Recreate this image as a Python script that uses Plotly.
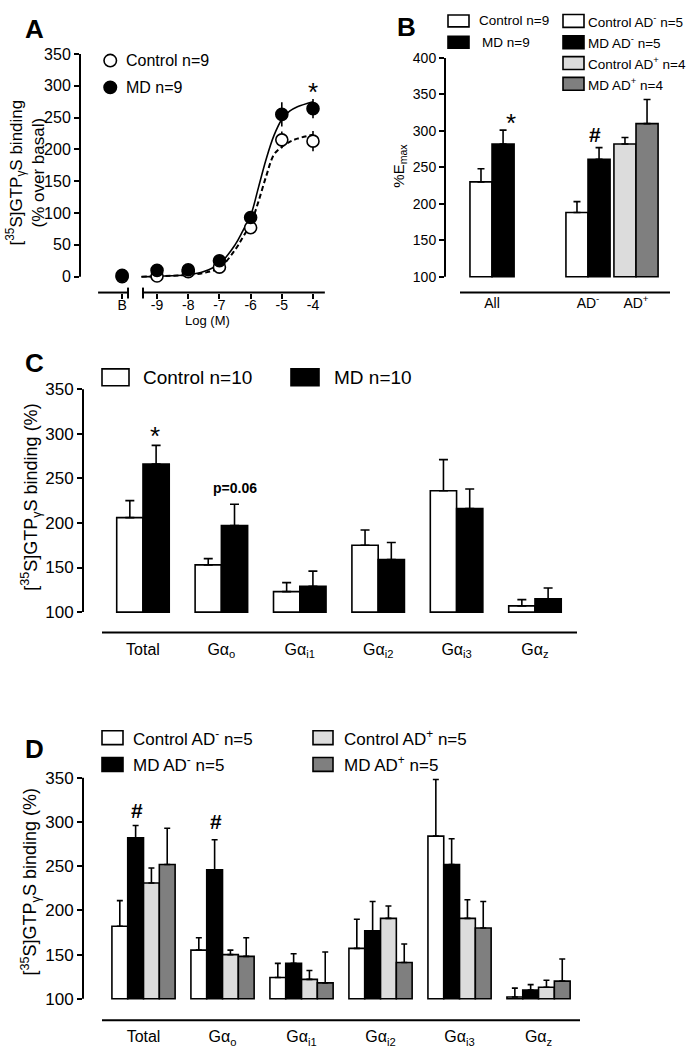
import plotly.graph_objects as go

W, H = 691, 1050
FONT = "Arial, 'Liberation Sans', sans-serif"

# ---------------- data ----------------
# A: [35S]GTPgS binding (% over basal) vs log concentration; "B" = basal
A_LEVELS = [-10.12, -9, -8, -7, -6, -5, -4]
A_TICKTEXT = ["B", "-9", "-8", "-7", "-6", "-5", "-4"]
A_CONTROL = [0, 1, 8, 15, 77, 215, 213]
A_CONTROL_SEM = [0, 0, 0, 2, 5, 13, 16]
A_MD = [2, 10, 11, 25, 93, 255, 264]
A_MD_SEM = [0, 0, 0, 3, 5, 19, 15]
# fitted curves
A_FIT_X = [-9.5, -9, -8.5, -8, -7.5, -7, -6.5, -6.25, -6, -5.75, -5.5, -5.25, -5, -4.75, -4.5, -4]
A_FIT_MD = [0, 0.5, 1.5, 3, 8, 20, 50, 72, 96, 140, 185, 222, 247, 260, 267, 275]
A_FIT_CONTROL = [0, 0.5, 1.5, 3, 6, 14, 42, 62, 83, 118, 158, 192, 204, 212, 217, 223]
A_NAMES = ["Control n=9", "MD n=9"]

# B: %Emax
B_NAMES = ["Control n=9", "MD n=9", "Control AD<sup>-</sup> n=5", "MD AD<sup>-</sup> n=5",
           "Control AD<sup>+</sup> n=4", "MD AD<sup>+</sup> n=4"]
B_GROUP = ["All", "All", "AD-", "AD-", "AD+", "AD+"]
B_MEANS = [230, 282, 188, 261, 282, 310]
B_SEMS = [18, 19, 15, 16, 9, 33]
B_CATS = ["All", "gap", "AD-", "AD+"]
B_TICKTEXT = ["All", "", "AD<sup>-</sup>", "AD<sup>+</sup>"]

# C / D: binding per G-protein subunit
SUBUNITS = ["Total", "Gα<sub>o</sub>", "Gα<sub>i1</sub>", "Gα<sub>i2</sub>",
            "Gα<sub>i3</sub>", "Gα<sub>z</sub>"]
C_NAMES = ["Control n=10", "MD n=10"]
C_CONTROL = [206, 153, 123, 175, 236, 107]
C_CONTROL_SEM = [19, 7, 10, 17, 35, 7]
C_MD = [266, 197, 129, 159, 216, 115]
C_MD_SEM = [21, 24, 17, 19, 22, 12]

D_NAMES = ["Control AD<sup>-</sup> n=5", "MD AD<sup>-</sup> n=5",
           "Control AD<sup>+</sup> n=5", "MD AD<sup>+</sup> n=5"]
D_CONTROL_ADN = [182, 155, 124, 157, 284, 102]
D_CONTROL_ADN_SEM = [29, 14, 16, 33, 64, 10]
D_MD_ADN = [282, 246, 140, 177, 252, 110]
D_MD_ADN_SEM = [14, 34, 11, 33, 29, 6]
D_CONTROL_ADP = [231, 150, 122, 191, 191, 113]
D_CONTROL_ADP_SEM = [17, 5, 10, 14, 21, 8]
D_MD_ADP = [252, 148, 118, 141, 180, 120]
D_MD_ADP_SEM = [41, 21, 35, 21, 30, 25]

WHITE, BLACK, LIGHT, DARK = "#FFFFFF", "#000000", "#DCDCDC", "#7F7F7F"


def px(v):
    return v / W


def py(v):
    return 1 - v / H


fig = go.Figure()


def bar(name, cats, means, sems, color, xa, ya, offset, width, cap):
    return go.Bar(
        x=cats, y=[m - 100 for m in means], base=100, offset=offset, width=width,
        marker=dict(color=color, line=dict(color=BLACK, width=1.6)),
        error_y=dict(type="data", symmetric=False, array=sems, arrayminus=[0] * len(sems),
                     color=BLACK, thickness=1.6, width=cap),
        name=name, xaxis=xa, yaxis=ya, showlegend=False, hoverinfo="skip",
    )


# ---- A
fig.add_trace(go.Scatter(x=A_FIT_X, y=A_FIT_CONTROL, mode="lines", xaxis="x", yaxis="y",
                         line=dict(color=BLACK, width=2, dash="5px,3px", shape="spline"),
                         showlegend=False, hoverinfo="skip"))
fig.add_trace(go.Scatter(x=A_FIT_X, y=A_FIT_MD, mode="lines", xaxis="x", yaxis="y",
                         line=dict(color=BLACK, width=1.6, shape="spline"),
                         showlegend=False, hoverinfo="skip"))
fig.add_trace(go.Scatter(x=A_LEVELS, y=A_CONTROL, mode="markers", xaxis="x", yaxis="y", name=A_NAMES[0],
                         marker=dict(size=12, color=WHITE, line=dict(color=BLACK, width=1.6)),
                         error_y=dict(array=A_CONTROL_SEM, color=BLACK, thickness=1.6, width=0),
                         showlegend=False))
fig.add_trace(go.Scatter(x=A_LEVELS, y=A_MD, mode="markers", xaxis="x", yaxis="y", name=A_NAMES[1],
                         marker=dict(size=12, color=BLACK, line=dict(color=BLACK, width=1.6)),
                         error_y=dict(array=A_MD_SEM, color=BLACK, thickness=1.6, width=0),
                         showlegend=False))

# ---- B
b_colors = [WHITE, BLACK, WHITE, BLACK, LIGHT, DARK]
b_w = 0.46
for i, name in enumerate(B_NAMES):
    off = -b_w if i % 2 == 0 else 0
    fig.add_trace(bar(name, [B_GROUP[i]], [B_MEANS[i]], [B_SEMS[i]], b_colors[i], "x2", "y2", off, b_w, 3.5))

# ---- C
c_w = 0.335
fig.add_trace(bar(C_NAMES[0], SUBUNITS, C_CONTROL, C_CONTROL_SEM, WHITE, "x3", "y3", -c_w, c_w, 4.5))
fig.add_trace(bar(C_NAMES[1], SUBUNITS, C_MD, C_MD_SEM, BLACK, "x3", "y3", 0, c_w, 4.5))

# ---- D
d_w = 0.2
d_series = [(D_CONTROL_ADN, D_CONTROL_ADN_SEM, WHITE), (D_MD_ADN, D_MD_ADN_SEM, BLACK),
            (D_CONTROL_ADP, D_CONTROL_ADP_SEM, LIGHT), (D_MD_ADP, D_MD_ADP_SEM, DARK)]
for k, (vals, sems, col) in enumerate(d_series):
    fig.add_trace(bar(D_NAMES[k], SUBUNITS, vals, sems, col, "x4", "y4", (k - 2) * d_w, d_w, 3))

# ---------------- axes ----------------
yax = dict(showgrid=False, zeroline=False, showline=False, ticks="outside", ticklen=5,
           tickwidth=1.6, tickcolor=BLACK, tickfont=dict(size=16, color=BLACK), fixedrange=True)
xax = dict(showgrid=False, zeroline=False, showline=False, tickfont=dict(size=16, color=BLACK),
           fixedrange=True)

fig.update_layout(
    width=W, height=H, margin=dict(l=0, r=0, t=0, b=0),
    paper_bgcolor="white", plot_bgcolor="white",
    font=dict(family=FONT, color=BLACK),
    barmode="overlay",
    xaxis=dict(xax, domain=[px(80), px(330)], range=[-11.47, -3.455], anchor="y",
               tickvals=A_LEVELS, ticktext=A_TICKTEXT, ticks="outside", ticklen=5, tickwidth=1.6,
               tickcolor=BLACK, tickfont=dict(size=14, color=BLACK), ticklabelstandoff=-5),
    yaxis=dict(yax, domain=[py(286), py(45)], range=[-24.9, 350.5], anchor="x",
               tickvals=list(range(0, 351, 50))),
    xaxis2=dict(xax, domain=[px(445), px(672)], range=[-0.98, 3.75], anchor="y2", type="category",
                categoryorder="array", categoryarray=B_CATS, tickvals=B_CATS, ticktext=B_TICKTEXT,
                ticks="", tickfont=dict(size=14, color=BLACK)),
    yaxis2=dict(yax, domain=[py(286), py(49)], range=[78.3, 400.5], anchor="x2",
                tickvals=list(range(100, 401, 50)), tickfont=dict(size=14, color=BLACK)),
    xaxis3=dict(xax, domain=[px(83), px(577)], range=[-0.765, 5.536], anchor="y3", type="category",
                ticks="", ticklabelstandoff=5),
    yaxis3=dict(yax, domain=[py(629), py(383)], range=[77, 350.5], anchor="x3",
                tickvals=list(range(100, 351, 50)), tickfont=dict(size=17, color=BLACK)),
    xaxis4=dict(xax, domain=[px(83), px(582)], range=[-0.766, 5.55], anchor="y4", type="category",
                ticks="", ticklabelstandoff=5),
    yaxis4=dict(yax, domain=[py(1020), py(775)], range=[75.7, 350.5], anchor="x4",
                tickvals=list(range(100, 351, 50)), tickfont=dict(size=17, color=BLACK)),
)

# ---------------- axis lines ----------------
line = dict(color=BLACK, width=2)
# A: y axis and broken x axis
fig.add_shape(type="line", xref="x domain", yref="y", x0=0, x1=0, y0=0, y1=350, line=line)
fig.add_shape(type="line", xref="x", yref="y domain", x0=-10.89, x1=-9.93, y0=0, y1=0, line=line)
fig.add_shape(type="line", xref="x", yref="y domain", x0=-9.45, x1=-3.62, y0=0, y1=0, line=line)
for bx in (-9.93, -9.45):
    fig.add_shape(type="line", xref="x", yref="paper", x0=bx, x1=bx, y0=py(281), y1=py(292), line=line)
# B, C, D
fig.add_shape(type="line", xref="x2 domain", yref="y2", x0=0, x1=0, y0=100, y1=400, line=line)
fig.add_shape(type="line", xref="paper", yref="y2 domain", x0=px(460), x1=px(670), y0=0, y1=0, line=line)
fig.add_shape(type="line", xref="x3 domain", yref="y3", x0=0, x1=0, y0=100, y1=350, line=line)
fig.add_shape(type="line", xref="paper", yref="y3 domain", x0=px(102), x1=px(577), y0=0, y1=0, line=line)
fig.add_shape(type="line", xref="x4 domain", yref="y4", x0=0, x1=0, y0=100, y1=350, line=line)
fig.add_shape(type="line", xref="paper", yref="y4 domain", x0=px(102), x1=px(580), y0=0, y1=0, line=line)


def text(x, y, s, size, bold=False, angle=0, anchor="center"):
    fig.add_annotation(xref="paper", yref="paper", x=px(x), y=py(y), text=f"<b>{s}</b>" if bold else s,
                       showarrow=False, xanchor=anchor, yanchor="middle", textangle=angle,
                       font=dict(size=size, color=BLACK, family=FONT))


def box_entry(x0, x1, yc, h, color, label, tx, size):
    fig.add_shape(type="rect", xref="paper", yref="paper", x0=px(x0), x1=px(x1),
                  y0=py(yc + h / 2), y1=py(yc - h / 2), fillcolor=color, line=dict(color=BLACK, width=1.6))
    text(tx, yc, label, size, anchor="left")


# panel letters
text(34, 20, "A", 26, bold=True)
text(406, 18, "B", 26, bold=True)
text(34, 357, "C", 26, bold=True)
text(34, 746, "D", 26, bold=True)

# A legend
for k, (fill, yc) in enumerate([(WHITE, 52), (BLACK, 79)]):
    fig.add_shape(type="circle", xref="paper", yref="paper", x0=px(104), x1=px(116.5),
                  y0=py(yc + 6.2), y1=py(yc - 6.2), fillcolor=fill, line=dict(color=BLACK, width=1.6))
    text(124, yc, A_NAMES[k], 16, anchor="left")
text(25, 165, "[<sup>35</sup>S]GTP<sub>γ</sub>S binding<br>(% over basal)", 17, angle=-90)
text(207, 314, "Log (M)", 13)
text(313, 84, "*", 26)

# B legend
b_rows = [12, 33.5, 12, 33.5, 54.5, 75.5]
for i, name in enumerate(B_NAMES):
    if i < 2:
        box_entry(448, 469, b_rows[i], 12, b_colors[i], name, 477 if i == 0 else 480, 13.5)
    else:
        box_entry(563, 584, b_rows[i], 13, b_colors[i], name, 586, 13.5)
text(400, 158, "%E<sub>max</sub>", 15, angle=-90)
text(511, 115, "*", 26)
text(595, 127, "#", 21, bold=True)

# C legend
box_entry(102, 129, 371.5, 17, WHITE, C_NAMES[0], 141, 19)
box_entry(291, 319, 371.5, 17, BLACK, C_NAMES[1], 332, 19)
text(31, 493, "[<sup>35</sup>S]GTP<sub>γ</sub>S binding (%)", 18, angle=-90)
text(155, 431, "*", 26)
text(235, 483, "p=0.06", 14, bold=True)

# D legend
box_entry(102, 123, 735, 14, WHITE, D_NAMES[0], 131, 17)
box_entry(102, 123, 762, 14, BLACK, D_NAMES[1], 131, 17)
box_entry(313, 333, 735, 14, LIGHT, D_NAMES[2], 342, 17)
box_entry(313, 333, 762, 14, DARK, D_NAMES[3], 342, 17)
text(30, 881, "[<sup>35</sup>S]GTP<sub>γ</sub>S binding (%)", 18, angle=-90)
text(137, 808, "#", 21, bold=True)
text(216, 820, "#", 21, bold=True)

fig.write_html("out.html", config={"displayModeBar": False},
               post_script="document.body.style.margin='0';")
